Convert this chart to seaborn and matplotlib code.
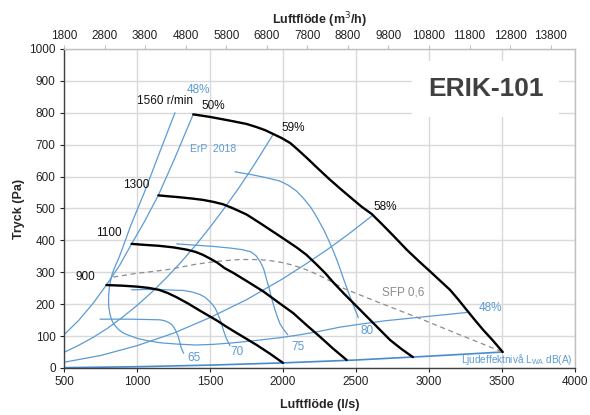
import matplotlib
matplotlib.use('Agg')
import matplotlib.pyplot as plt
import seaborn as sns

# ==============================
# Data
# ==============================

# fan curves, black (l/s, Pa)
rpm_labels = ['900', '1100', '1300', '1560 r/min']
fan_900_x = [790, 900, 1000, 1080, 1150, 1210, 1270, 1350, 1430, 1490, 1550, 1600,
             1660, 1740, 1820, 1910, 2000]
fan_900_y = [260, 258, 255, 251, 245, 235, 222, 202, 180, 164, 148, 133, 116, 94,
             72, 45, 16]
fan_1100_x = [963, 1050, 1150, 1250, 1340, 1400, 1450, 1500, 1550, 1600, 1660, 1760,
              1865, 1970, 2070, 2160, 2253, 2340, 2436]
fan_1100_y = [389, 386, 383, 378, 371, 364, 355, 343, 330, 313, 298, 270, 240, 205,
              172, 135, 98, 62, 25]
fan_1300_x = [1146, 1220, 1295, 1380, 1450, 1520, 1591, 1660, 1751, 1850, 1979, 2093,
              2160, 2231, 2290, 2345, 2420, 2505, 2620, 2733, 2810, 2890]
fan_1300_y = [541, 538, 535, 531, 527, 521, 513, 500, 481, 452, 413, 378, 355, 324,
              297, 268, 232, 193, 140, 88, 60, 34]
fan_1560_x = [1385, 1500, 1640, 1750, 1820, 1880, 1935, 1990, 2050, 2100, 2160, 2240,
              2320, 2400, 2480, 2540, 2607, 2680, 2755, 2847, 2930, 3007, 3080, 3144,
              3200, 3258, 3315, 3372, 3440, 3505]
fan_1560_y = [795, 787, 775, 765, 755, 745, 733, 721, 705, 685, 660, 625, 591, 559,
              528, 505, 483, 450, 415, 371, 335, 303, 272, 245, 215, 182, 150, 119,
              85, 50]

# efficiency / system lines, blue
eff_48_x = [1260, 1205, 1150, 1100, 1050, 1005, 960, 920, 880, 850, 830, 818, 810,
            806, 805, 807, 815, 825, 838, 858, 880, 905, 929, 965, 1000, 1066, 1160,
            1272, 1400, 1520, 1637, 1750, 1850, 1980, 2116, 2250, 2390, 2540, 2700,
            2850, 3000, 3130, 3258]
eff_48_y = [800, 735, 670, 610, 550, 500, 450, 400, 350, 318, 295, 272, 250, 230,
            210, 190, 168, 152, 140, 128, 118, 110, 105, 99, 93, 86, 79, 75, 72, 74,
            78, 83, 88, 95, 104, 115, 128, 138, 148, 155, 162, 168, 174]
eff_50_x = [500, 600, 700, 790, 880, 963, 1050, 1146, 1260, 1385]
eff_50_y = [104, 149, 203, 260, 321, 389, 458, 541, 659, 795]
eff_59_x = [500, 600, 700, 800, 900, 1000, 1100, 1200, 1300, 1400, 1500, 1600, 1700,
            1800, 1934]
eff_59_y = [49, 71, 96, 125, 159, 196, 237, 282, 331, 384, 441, 502, 566, 635, 733]
eff_58_x = [500, 750, 1000, 1250, 1500, 1750, 2000, 2150, 2300, 2450, 2607]
eff_58_y = [18, 39, 70, 109, 158, 214, 280, 324, 370, 420, 476]
lwa_x = [500, 1000, 1500, 2000, 2500, 3000, 3505]
lwa_y = [1, 4, 9, 16, 25, 37, 50]

# sound power contours dB(A)
db_65_x = [747, 850, 950, 1060, 1158, 1190, 1215, 1235, 1249, 1265, 1283, 1292,
           1300, 1310, 1320]
db_65_y = [153, 153, 153, 152, 151, 148, 143, 137, 130, 117, 98, 82, 67, 55, 46]
db_70_x = [963, 1050, 1150, 1250, 1317, 1380, 1432, 1465, 1490, 1515, 1535, 1555,
           1575, 1591, 1610, 1637]
db_70_y = [245, 246, 246, 244, 243, 238, 230, 222, 212, 200, 188, 168, 145, 120,
           95, 70]
db_75_x = [1272, 1400, 1523, 1637, 1720, 1780, 1815, 1845, 1868, 1888, 1905, 1920,
           1940, 1960, 1980, 2005, 2033]
db_75_y = [389, 385, 381, 376, 371, 364, 352, 332, 310, 277, 250, 222, 190, 162,
           138, 120, 104]
db_80_x = [1671, 1720, 1774, 1880, 1979, 2040, 2094, 2140, 2185, 2220, 2253, 2283,
           2310, 2340, 2368, 2398, 2425, 2450, 2470, 2495, 2516]
db_80_y = [615, 611, 607, 597, 586, 572, 554, 532, 507, 482, 455, 430, 403, 372,
           340, 302, 266, 235, 210, 182, 158]

# SFP 0,6 line, grey dashed
sfp_x = [838, 920, 1000, 1100, 1203, 1300, 1400, 1480, 1546, 1620, 1705, 1800, 1888,
         1980, 2070, 2160, 2250, 2330, 2413, 2642, 2938, 3190, 3505]
sfp_y = [285, 291, 297, 302, 308, 316, 325, 330, 334, 337, 340, 340, 338, 332, 322,
         308, 290, 271, 250, 208, 155, 108, 50]

x_ticks = [500, 1000, 1500, 2000, 2500, 3000, 3500, 4000]
y_ticks = list(range(0, 1001, 100))
top_ticks = list(range(1800, 13801, 1000))

# ==============================
# Style
# ==============================

sns.set_style("whitegrid")
plt.rcParams['font.family'] = ['Liberation Sans', 'DejaVu Sans']

BLUE = '#5B9BD5'
GRID = '#D9D9D9'

fig = plt.figure(figsize=(5.9, 4.15), dpi=100)
ax = fig.add_axes([0.1085, 0.1133, 0.866, 0.7687])


def draw(x, y, **kw):
    sns.lineplot(x=x, y=y, ax=ax, sort=False, estimator=None, legend=False, **kw)


# blue lines
for xs, ys in [(eff_48_x, eff_48_y), (eff_50_x, eff_50_y), (eff_59_x, eff_59_y),
               (eff_58_x, eff_58_y), (db_65_x, db_65_y), (db_70_x, db_70_y),
               (db_75_x, db_75_y), (db_80_x, db_80_y)]:
    draw(xs, ys, color=BLUE, lw=0.9)
draw(lwa_x, lwa_y, color='#4A8BCB', lw=1.2)

# SFP line
draw(sfp_x, sfp_y, color='#8C8C8C', lw=0.9, linestyle=(0, (4, 3)))

# fan curves
for xs, ys in [(fan_900_x, fan_900_y), (fan_1100_x, fan_1100_y),
               (fan_1300_x, fan_1300_y), (fan_1560_x, fan_1560_y)]:
    draw(xs, ys, color='black', lw=1.7)

ax.set_xlim(500, 4000)
ax.set_ylim(0, 1000)
ax.set_xticks(x_ticks)
ax.set_yticks(y_ticks)
ax.grid(True, color=GRID, lw=1.0)
ax.tick_params(axis='both', labelsize=8.5, colors='#222222', length=3,
               bottom=True, left=True, pad=3)
for s in ['left', 'bottom']:
    ax.spines[s].set_color('#404040')
    ax.spines[s].set_linewidth(1.0)
for s in ['top', 'right']:
    ax.spines[s].set_color('#BFBFBF')
    ax.spines[s].set_linewidth(1.0)

ax.set_xlabel('Luftflöde (l/s)', fontsize=9, fontweight='bold', labelpad=8)
ax.set_ylabel('Tryck (Pa)', fontsize=9, fontweight='bold', labelpad=3)

top = ax.secondary_xaxis('top', functions=(lambda v: v * 3.6, lambda v: v / 3.6))
top.set_xticks(top_ticks)
top.tick_params(labelsize=8.5, colors='#222222', length=3, top=True, pad=2)
top.tick_params(axis='x', color='#BFBFBF')
top.spines['top'].set_visible(False)
top.set_xlabel('Luftflöde (m$^3$/h)', fontsize=9, fontweight='bold', labelpad=4)

# ==============================
# Labels
# ==============================

kw_b = dict(fontsize=8.5, color='#111111')
ax.text(646, 285, rpm_labels[0], ha='center', va='center', **kw_b)
ax.text(809, 424, rpm_labels[1], ha='center', va='center', **kw_b)
ax.text(992, 575, rpm_labels[2], ha='center', va='center', **kw_b)
ax.text(1386, 837, rpm_labels[3], ha='right', va='center', **kw_b)
ax.text(1524, 822, '50%', ha='center', va='center', **kw_b)
ax.text(1991, 752, '59%', ha='left', va='center', **kw_b)
ax.text(2619, 505, '58%', ha='left', va='center', **kw_b)

kw_l = dict(fontsize=8.5, color=BLUE, ha='center', va='center')
ax.text(1421, 872, '48%', **kw_l)
ax.text(3418, 188, '48%', **kw_l)
ax.text(1392, 30, '65', **kw_l)
ax.text(1683, 51, '70', **kw_l)
ax.text(2103, 67, '75', **kw_l)
ax.text(2573, 116, '80', **kw_l)
ax.text(1363, 686, 'ErP  2018', fontsize=7.5, color=BLUE, ha='left', va='center')
ax.text(3222, 27, r'Ljudeffektnivå L$_{\mathregular{WA}}$ dB(A)', fontsize=7.2,
        color=BLUE, ha='left', va='center')
ax.text(2824, 237, 'SFP 0,6', fontsize=8.5, color='#8C8C8C', ha='center', va='center')

ax.text(3390, 874, 'ERIK-101', fontsize=19, fontweight='bold', color='#404040',
        ha='center', va='center',
        bbox=dict(facecolor='white', edgecolor='none', boxstyle='square,pad=0.6'),
        zorder=5)

plt.savefig('out.png', dpi=100)
plt.close()
